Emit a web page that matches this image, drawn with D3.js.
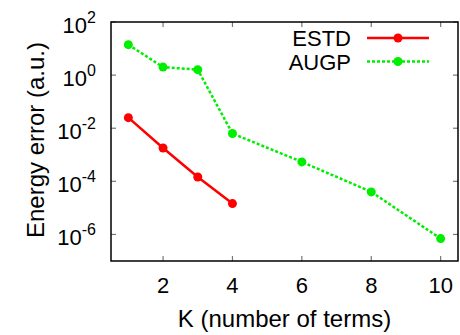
<!DOCTYPE html>
<html>
<head>
<meta charset="utf-8">
<script src="https://cdn.jsdelivr.net/npm/d3@7"></script>
<style>
  body { margin: 0; background: #fff; }
  text { font-family: "Liberation Sans", Arial, sans-serif; fill: #000; }
</style>
</head>
<body>
<svg id="chart" width="460" height="335"></svg>
<script>
// data
var estd_k = [1, 2, 3, 4];
var estd_err = [2.5e-2, 1.8e-3, 1.45e-4, 1.45e-5];
var augp_k = [1, 2, 3, 4, 6, 8, 10];
var augp_err = [14, 2.0, 1.6, 6.3e-3, 5.4e-4, 4.0e-5, 7.0e-7];
var x_ticks = [2, 4, 6, 8, 10];
var y_exps = [2, 0, -2, -4, -6];
var series_names = ['ESTD', 'AUGP'];

var LEFT = 111, TOP = 22, RIGHT = 458, BOTTOM = 261;

var svg = d3.select('#chart');

var x = d3.scaleLinear()
  .domain([0.5, 10.5])
  .range([LEFT, RIGHT]);

var y = d3.scaleLog()
  .domain([1e-7, 1e2])
  .range([BOTTOM, TOP]);

// ticks on all four sides, pointing in
var tick_g = svg.append('g')
  .attr('stroke', '#777')
  .attr('stroke-width', 1.2);

x_ticks.forEach(function(t){
  tick_g.append('line').attr('x1', x(t)).attr('x2', x(t)).attr('y1', BOTTOM).attr('y2', BOTTOM - 5);
  tick_g.append('line').attr('x1', x(t)).attr('x2', x(t)).attr('y1', TOP).attr('y2', TOP + 5);
});
y_exps.forEach(function(e){
  var yy = y(Math.pow(10, e));
  tick_g.append('line').attr('x1', LEFT).attr('x2', LEFT + 5).attr('y1', yy).attr('y2', yy);
  tick_g.append('line').attr('x1', RIGHT).attr('x2', RIGHT - 5).attr('y1', yy).attr('y2', yy);
});

// frame
svg.append('rect')
  .attr('x', LEFT)
  .attr('y', TOP)
  .attr('width', RIGHT - LEFT)
  .attr('height', BOTTOM - TOP)
  .attr('fill', 'none')
  .attr('stroke', '#000')
  .attr('stroke-width', 1.5);

// x tick labels
svg.selectAll('.xlab')
  .data(x_ticks)
  .enter().append('text')
  .attr('class', 'xlab')
  .attr('x', function(d){ return x(d); })
  .attr('y', 292.5)
  .attr('text-anchor', 'middle')
  .attr('font-size', '22px')
  .text(function(d){ return d; });

// y tick labels 10^n
y_exps.forEach(function(e){
  var t = svg.append('text')
    .attr('x', 96)
    .attr('y', y(Math.pow(10, e)) + 10.5)
    .attr('text-anchor', 'end')
    .attr('font-size', '22px');
  t.append('tspan').text('10');
  t.append('tspan')
    .attr('dy', -10)
    .attr('font-size', '16px')
    .text(e);
});

// axis titles
svg.append('text')
  .attr('x', (LEFT + RIGHT) / 2)
  .attr('y', 326.5)
  .attr('text-anchor', 'middle')
  .attr('font-size', '24px')
  .text('K (number of terms)');

svg.append('text')
  .attr('transform', 'translate(44,140) rotate(-90)')
  .attr('text-anchor', 'middle')
  .attr('font-size', '24px')
  .text('Energy error (a.u.)');

var line = d3.line()
  .x(function(d){ return x(d[0]); })
  .y(function(d){ return y(d[1]); });

var estd = d3.zip(estd_k, estd_err);
var augp = d3.zip(augp_k, augp_err);

var styles = [
  {color: '#ff0000', dash: null},
  {color: '#00ee00', dash: '3,2'}
];

[estd, augp].forEach(function(data, i){
  svg.append('path')
    .datum(data)
    .attr('d', line)
    .attr('fill', 'none')
    .attr('stroke', styles[i].color)
    .attr('stroke-width', 2.5)
    .attr('stroke-dasharray', styles[i].dash);

  svg.selectAll('.pt' + i)
    .data(data)
    .enter().append('circle')
    .attr('class', 'pt' + i)
    .attr('cx', function(d){ return x(d[0]); })
    .attr('cy', function(d){ return y(d[1]); })
    .attr('r', 4.5)
    .attr('fill', styles[i].color);
});

// legend
series_names.forEach(function(name, i){
  var ly = 38 + i * 23.5;
  svg.append('text')
    .attr('x', 351)
    .attr('y', ly + 8)
    .attr('text-anchor', 'end')
    .attr('font-size', '22px')
    .text(name);
  svg.append('line')
    .attr('x1', 367).attr('x2', 429)
    .attr('y1', ly).attr('y2', ly)
    .attr('stroke', styles[i].color)
    .attr('stroke-width', 2.5)
    .attr('stroke-dasharray', styles[i].dash);
  svg.append('circle')
    .attr('cx', 398).attr('cy', ly)
    .attr('r', 4.5)
    .attr('fill', styles[i].color);
});
</script>
</body>
</html>
